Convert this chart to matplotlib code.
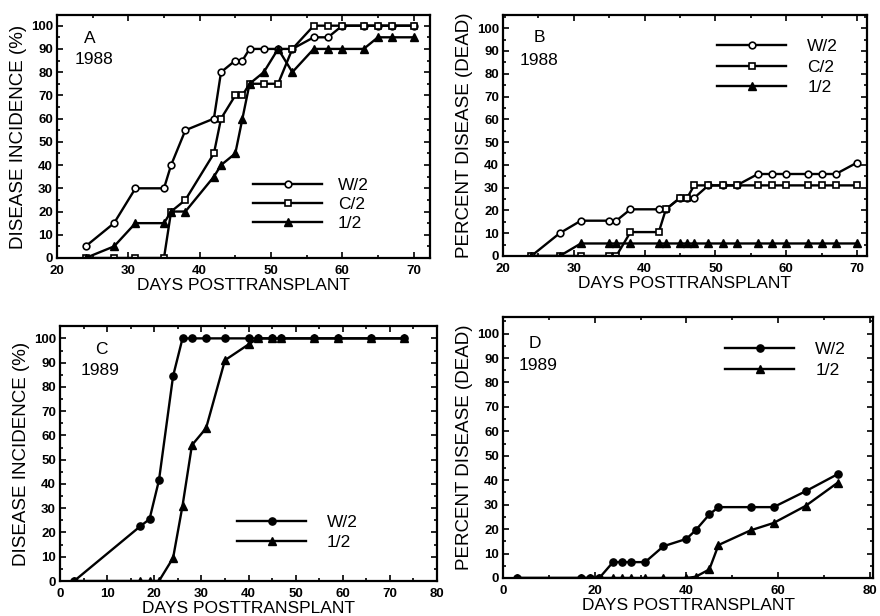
import matplotlib
matplotlib.use("Agg")
import matplotlib.pyplot as plt
from matplotlib.ticker import MultipleLocator

plt.rcParams['font.family'] = ['Liberation Sans', 'DejaVu Sans']

# ---------------- data ----------------
days_1988 = [24, 28, 31, 35, 36, 38, 42, 43, 45, 46, 47, 49, 51, 53, 56, 58, 60, 63, 65, 67, 70]

a_w2 = [5, 15, 30, 30, 40, 55, 60, 80, 85, 85, 90, 90, 90, 90, 95, 95, 100, 100, 100, 100, 100]
a_c2 = [0, 0, 0, 0, 20, 25, 45, 60, 70, 70, 75, 75, 75, 90, 100, 100, 100, 100, 100, 100, 100]
a_12 = [0, 5, 15, 15, 20, 20, 35, 40, 45, 60, 75, 80, 90, 80, 90, 90, 90, 90, 95, 95, 95]

b_w2 = [0, 10, 15.5, 15.5, 15.5, 20.5, 20.5, 20.5, 25.5, 25.5, 25.5, 31, 31, 31, 36, 36, 36, 36, 36, 36, 41]
b_c2 = [0, 0, 0, 0, 0, 10.5, 10.5, 20.5, 25.5, 25.5, 31, 31, 31, 31, 31, 31, 31, 31, 31, 31, 31]
b_12 = [0, 0, 5.5, 5.5, 5.5, 5.5, 5.5, 5.5, 5.5, 5.5, 5.5, 5.5, 5.5, 5.5, 5.5, 5.5, 5.5, 5.5, 5.5, 5.5, 5.5]

days_1989 = [3, 17, 19, 21, 24, 26, 28, 31, 35, 40, 42, 45, 47, 54, 59, 66, 73]

c_w2 = [0, 22.5, 25.5, 41.5, 84.5, 100, 100, 100, 100, 100, 100, 100, 100, 100, 100, 100, 100]
c_12 = [0, 0, 0, 0, 9.5, 31, 56, 63, 91, 97.5, 100, 100, 100, 100, 100, 100, 100]

d_w2 = [0, 0, 0, 0, 6.5, 6.5, 6.5, 6.5, 13, 16, 19.5, 26, 29, 29, 29, 35.5, 42.5]
d_12 = [0, 0, 0, 0, 0, 0, 0, 0, 0, 0, 0.5, 3.5, 13.5, 19.5, 22.5, 29.5, 39]

labels_1988 = ["W/2", "C/2", "1/2"]
labels_1989 = ["W/2", "1/2"]
xlabel = "DAYS POSTTRANSPLANT"
ylab_inc = "DISEASE INCIDENCE (%)"
ylab_dead = "PERCENT DISEASE (DEAD)"

# ---------------- figure ----------------
W, H = 880, 616
fig = plt.figure(figsize=(W / 100, H / 100), dpi=100)


def rect(l, r, t, b):
    return [l / W, 1 - b / H, (r - l) / W, (b - t) / H]


axA = fig.add_axes(rect(57, 430, 15, 258))
axB = fig.add_axes(rect(503, 867, 15, 256))
axC = fig.add_axes(rect(60, 437, 326, 581))
axD = fig.add_axes(rect(503, 873, 317, 578))

LW = 1.7
K = 'black'


def style(ax, xlim, ylim, xmaj, xmin, ylabel):
    ax.set_xlim(*xlim)
    ax.set_ylim(*ylim)
    ax.xaxis.set_major_locator(MultipleLocator(xmaj))
    ax.xaxis.set_minor_locator(MultipleLocator(xmin))
    ax.yaxis.set_major_locator(MultipleLocator(10))
    ax.yaxis.set_minor_locator(MultipleLocator(5))
    ax.tick_params(which='both', direction='in', top=True, right=True, width=1.2)
    ax.tick_params(which='major', length=4)
    ax.tick_params(which='minor', length=2.5)
    ax.tick_params(axis='y', pad=3)
    ax.tick_params(axis='x', pad=5)
    for lab in ax.get_xticklabels() + ax.get_yticklabels():
        lab.set_fontweight('bold')
        lab.set_fontsize(9.5)
    for s in ax.spines.values():
        s.set_linewidth(1.6)
    ax.set_xlabel(xlabel, fontsize=12.5, labelpad=1)
    ax.set_ylabel(ylabel, fontsize=13.5, labelpad=3)


def legend(ax, anchor, pad, spacing):
    ax.legend(loc='upper left', bbox_to_anchor=anchor, frameon=False, fontsize=12.5,
              handlelength=4.0, handletextpad=pad, labelspacing=spacing,
              borderpad=0, borderaxespad=0, numpoints=1)


def labels(ax, letter, year, lx, ly, yx, yy):
    ax.text(lx, ly, letter, transform=ax.transAxes, fontsize=12.5, ha='center', va='center')
    ax.text(yx, yy, year, transform=ax.transAxes, fontsize=12.5, ha='center', va='center')


# Panel A
axA.plot(days_1988, a_w2, '-o', color=K, lw=LW, ms=4.8, mfc='white', mew=1.2, label=labels_1988[0])
axA.plot(days_1988, a_c2, '-s', color=K, lw=LW, ms=4.4, mfc='white', mew=1.2, label=labels_1988[1])
axA.plot(days_1988, a_12, '-^', color=K, lw=LW, ms=5.2, mfc=K, label=labels_1988[2])
style(axA, (20, 72.3), (0, 104.6), 10, 5, ylab_inc)
legend(axA, (0.525, 0.331), 0.9, 0.22)
labels(axA, "A", "1988", 0.088, 0.905, 0.10, 0.815)

# Panel B
axB.plot(days_1988, b_w2, '-o', color=K, lw=LW, ms=4.8, mfc='white', mew=1.2, label=labels_1988[0])
axB.plot(days_1988, b_c2, '-s', color=K, lw=LW, ms=4.4, mfc='white', mew=1.2, label=labels_1988[1])
axB.plot(days_1988, b_12, '-^', color=K, lw=LW, ms=5.2, mfc=K, label=labels_1988[2])
style(axB, (20, 71.4), (0, 105.8), 10, 5, ylab_dead)
legend(axB, (0.588, 0.901), 1.2, 0.32)
labels(axB, "B", "1988", 0.10, 0.905, 0.10, 0.813)

# Panel C
axC.plot(days_1989, c_w2, '-o', color=K, lw=LW, ms=5.2, mfc=K, label=labels_1989[0])
axC.plot(days_1989, c_12, '-^', color=K, lw=LW, ms=5.6, mfc=K, label=labels_1989[1])
style(axC, (0, 80), (0, 105.1), 10, 5, ylab_inc)
legend(axC, (0.469, 0.259), 1.2, 0.27)
labels(axC, "C", "1989", 0.111, 0.906, 0.106, 0.824)

# Panel D
axD.plot(days_1989, d_w2, '-o', color=K, lw=LW, ms=5.2, mfc=K, label=labels_1989[0])
axD.plot(days_1989, d_12, '-^', color=K, lw=LW, ms=5.6, mfc=K, label=labels_1989[1])
style(axD, (0, 80.7), (0, 106.8), 20, 10, ylab_dead)
legend(axD, (0.60, 0.903), 1.2, 0.32)
labels(axD, "D", "1989", 0.086, 0.898, 0.095, 0.814)

fig.savefig("out.png", dpi=100)
